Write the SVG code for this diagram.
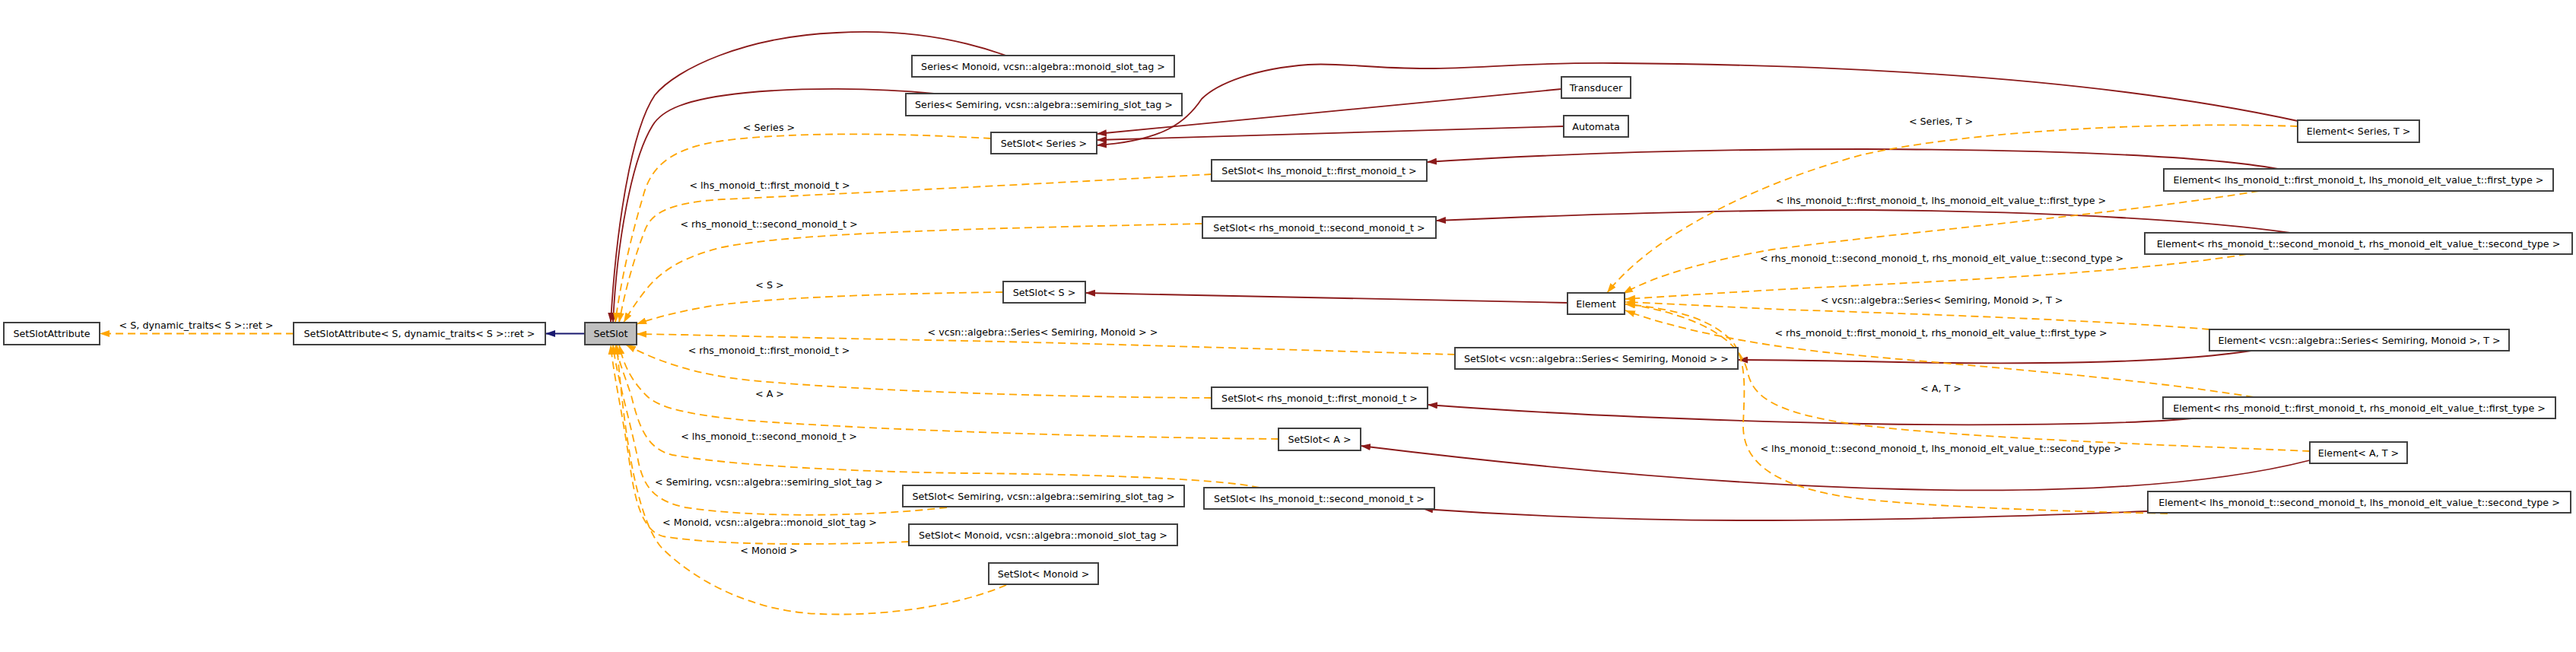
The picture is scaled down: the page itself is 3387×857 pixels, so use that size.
<svg xmlns="http://www.w3.org/2000/svg" width="3387" height="857" viewBox="0 0 3387 857">
<style>
text{font-family:"DejaVu Sans","Liberation Sans",sans-serif;font-size:12.7px;fill:#000;text-anchor:middle}
.n rect{fill:#fff;stroke:#404040;stroke-width:2}
.n.g rect{fill:#bfbfbf}
.e path{fill:none;stroke-width:1.8}
.r{stroke:#8b1a1a;marker-end:url(#ar)}
.o{stroke:#ffa500;stroke-dasharray:10,6;marker-end:url(#ao)}
.b{stroke:#191970;marker-end:url(#ab)}
</style>
<defs>
<marker id="ar" viewBox="0 0 13 9" refX="13" refY="4.5" markerWidth="13" markerHeight="9" markerUnits="userSpaceOnUse" orient="auto"><path d="M0,0L13,4.5L0,9z" fill="#8b1a1a"/></marker>
<marker id="ao" viewBox="0 0 13 9" refX="13" refY="4.5" markerWidth="13" markerHeight="9" markerUnits="userSpaceOnUse" orient="auto"><path d="M0,0L13,4.5L0,9z" fill="#ffa500"/></marker>
<marker id="ab" viewBox="0 0 13 9" refX="13" refY="4.5" markerWidth="13" markerHeight="9" markerUnits="userSpaceOnUse" orient="auto"><path d="M0,0L13,4.5L0,9z" fill="#191970"/></marker>
</defs>
<rect width="3387" height="857" fill="#fff"/>
<g id="edges" class="e">
<path class="b" d="M769,438.5L717,438.5"/>
<path class="o" d="M386,438.5L131,438.5"/>
<path class="r" d="M1323,73C1230,40 1150,40 1100,43C980,48 890,90 861,125C830,170 810,300 803,424"/>
<path class="r" d="M1228,123C1150,115 1050,115 980,122C900,130 870,145 858,165C830,210 811,320 806,424"/>
<path class="r" d="M2053,117L1442,176"/>
<path class="r" d="M2056,166L1442,184"/>
<path class="r" d="M3021,159C2750,100 2400,85 2124,83C2000,82 1950,90 1877,90C1800,90 1760,82 1720,85C1650,90 1600,110 1580,130C1560,160 1530,185 1442,191"/>
<path class="r" d="M2995,222C2900,205 2700,197 2450,196C2200,196 2000,205 1876,213"/>
<path class="r" d="M3011,306C2900,290 2700,278 2450,276C2250,276 2050,283 1888,290"/>
<path class="r" d="M2061,398C1800,393 1600,387 1427,385"/>
<path class="r" d="M2960,461C2850,478 2650,480 2450,475C2380,474 2330,473 2285,473"/>
<path class="r" d="M2882,550C2800,558 2600,560 2450,557C2250,553 2050,545 1877,532"/>
<path class="r" d="M3037,605C2900,640 2700,648 2500,643C2300,638 2050,618 1789,586"/>
<path class="r" d="M2824,672C2700,677 2500,684 2300,684C2150,684 2000,678 1871,669"/>
<path class="o" d="M1303,182C1200,176 1050,172 950,185C880,195 855,220 845,260C830,310 816,370 809,424"/>
<path class="o" d="M1593,229C1400,240 1100,255 950,262C880,266 858,280 849,300C835,335 822,380 814,424"/>
<path class="o" d="M1581,294C1300,300 1050,305 950,325C900,337 870,355 850,380C838,395 828,410 820,424"/>
<path class="o" d="M1319,384C1150,386 1000,392 930,403C890,410 860,418 837,426"/>
<path class="o" d="M1913,466C1700,460 1400,450 1217,447C1050,444 920,440 837,439"/>
<path class="o" d="M1593,523C1400,522 1150,515 987,500C920,493 870,478 823,453"/>
<path class="o" d="M1681,577C1450,575 1150,565 987,553C900,545 865,535 850,520C830,500 820,480 814,453"/>
<path class="o" d="M1656,641C1600,628 1400,623 1274,622C1100,620 950,610 884,598C850,590 840,560 830,520C820,490 812,470 809,453"/>
<path class="o" d="M1245,667C1150,678 1000,682 901,667C860,658 845,640 838,600C825,540 810,490 806,453"/>
<path class="o" d="M1195,712C1100,716 950,718 872,705C845,698 835,660 828,610C818,540 806,490 803,453"/>
<path class="o" d="M1323,769C1250,800 1150,810 1079,807C1000,805 920,770 870,720C835,680 820,560 811,453"/>
<path class="o" d="M3021,166C2850,160 2600,170 2450,203C2330,235 2180,300 2113,385"/>
<path class="o" d="M2970,251C2800,280 2500,305 2330,328C2250,342 2180,360 2134,386"/>
<path class="o" d="M2954,334C2800,360 2500,372 2350,380C2260,385 2190,390 2137,393"/>
<path class="o" d="M2905,433C2750,420 2500,412 2350,407C2260,403 2190,399 2137,397"/>
<path class="o" d="M2963,522C2800,495 2550,478 2400,463C2300,452 2200,432 2137,408"/>
<path class="o" d="M3037,593C2850,585 2550,575 2420,555C2330,540 2305,520 2298,490C2290,450 2240,415 2137,399"/>
<path class="o" d="M2850,675C2700,672 2500,665 2420,652C2320,635 2292,600 2292,560C2293,520 2298,480 2280,452C2255,420 2200,405 2137,400"/>
</g>
<g id="edge-labels">
<text x="258" y="432">&lt; S, dynamic_traits&lt; S &gt;::ret &gt;</text>
<text x="1011" y="171.6">&lt; Series &gt;</text>
<text x="1012" y="247.6">&lt; lhs_monoid_t::first_monoid_t &gt;</text>
<text x="1011" y="298.6">&lt; rhs_monoid_t::second_monoid_t &gt;</text>
<text x="1012" y="378.6">&lt; S &gt;</text>
<text x="1371" y="440.6">&lt; vcsn::algebra::Series&lt; Semiring, Monoid &gt; &gt;</text>
<text x="1011" y="464.6">&lt; rhs_monoid_t::first_monoid_t &gt;</text>
<text x="1012" y="521.6">&lt; A &gt;</text>
<text x="1011" y="577.6">&lt; lhs_monoid_t::second_monoid_t &gt;</text>
<text x="1011" y="637.6">&lt; Semiring, vcsn::algebra::semiring_slot_tag &gt;</text>
<text x="1012" y="690.6">&lt; Monoid, vcsn::algebra::monoid_slot_tag &gt;</text>
<text x="1011" y="727.6">&lt; Monoid &gt;</text>
<text x="2552" y="163.6">&lt; Series, T &gt;</text>
<text x="2552" y="267.6">&lt; lhs_monoid_t::first_monoid_t, lhs_monoid_elt_value_t::first_type &gt;</text>
<text x="2553" y="343.6">&lt; rhs_monoid_t::second_monoid_t, rhs_monoid_elt_value_t::second_type &gt;</text>
<text x="2553" y="398.6">&lt; vcsn::algebra::Series&lt; Semiring, Monoid &gt;, T &gt;</text>
<text x="2552" y="441.6">&lt; rhs_monoid_t::first_monoid_t, rhs_monoid_elt_value_t::first_type &gt;</text>
<text x="2552" y="514.6">&lt; A, T &gt;</text>
<text x="2552" y="593.6">&lt; lhs_monoid_t::second_monoid_t, lhs_monoid_elt_value_t::second_type &gt;</text>
</g>
<g id="n-SetSlotAttribute" class="n"><rect x="5" y="424" width="126" height="29"/><text x="68" y="443">SetSlotAttribute</text></g>
<g id="n-SetSlotAttribute-S" class="n"><rect x="386" y="424" width="331" height="29"/><text x="551.5" y="443">SetSlotAttribute&lt; S, dynamic_traits&lt; S &gt;::ret &gt;</text></g>
<g id="n-SetSlot" class="n g"><rect x="769" y="424" width="68" height="29"/><text x="803" y="443">SetSlot</text></g>
<g id="n-Series-Monoid" class="n"><rect x="1199" y="73" width="345" height="28"/><text x="1371.5" y="91.6">Series&lt; Monoid, vcsn::algebra::monoid_slot_tag &gt;</text></g>
<g id="n-Series-Semiring" class="n"><rect x="1191" y="123" width="363" height="29"/><text x="1372.5" y="142">Series&lt; Semiring, vcsn::algebra::semiring_slot_tag &gt;</text></g>
<g id="n-SetSlot-Series" class="n"><rect x="1303" y="174" width="139" height="28"/><text x="1372.5" y="192.6">SetSlot&lt; Series &gt;</text></g>
<g id="n-Transducer" class="n"><rect x="2053" y="101" width="91" height="28"/><text x="2098.5" y="119.6">Transducer</text></g>
<g id="n-Automata" class="n"><rect x="2056" y="152" width="85" height="28"/><text x="2098.5" y="170.6">Automata</text></g>
<g id="n-SetSlot-lhs-first" class="n"><rect x="1593" y="210" width="283" height="28"/><text x="1734.5" y="228.6">SetSlot&lt; lhs_monoid_t::first_monoid_t &gt;</text></g>
<g id="n-SetSlot-rhs-second" class="n"><rect x="1581" y="285" width="307" height="28"/><text x="1734.5" y="303.6">SetSlot&lt; rhs_monoid_t::second_monoid_t &gt;</text></g>
<g id="n-SetSlot-S" class="n"><rect x="1319" y="370" width="108" height="28"/><text x="1373" y="388.6">SetSlot&lt; S &gt;</text></g>
<g id="n-Element" class="n"><rect x="2061" y="385" width="75" height="28"/><text x="2098.5" y="403.6">Element</text></g>
<g id="n-SetSlot-vcsn" class="n"><rect x="1913" y="457" width="372" height="28"/><text x="2099" y="475.6">SetSlot&lt; vcsn::algebra::Series&lt; Semiring, Monoid &gt; &gt;</text></g>
<g id="n-SetSlot-rhs-first" class="n"><rect x="1593" y="509" width="284" height="28"/><text x="1735" y="527.6">SetSlot&lt; rhs_monoid_t::first_monoid_t &gt;</text></g>
<g id="n-SetSlot-A" class="n"><rect x="1681" y="563" width="108" height="29"/><text x="1735" y="582">SetSlot&lt; A &gt;</text></g>
<g id="n-SetSlot-Semiring" class="n"><rect x="1187" y="638" width="370" height="28"/><text x="1372" y="656.6">SetSlot&lt; Semiring, vcsn::algebra::semiring_slot_tag &gt;</text></g>
<g id="n-SetSlot-lhs-second" class="n"><rect x="1583" y="641" width="303" height="28"/><text x="1734.5" y="659.6">SetSlot&lt; lhs_monoid_t::second_monoid_t &gt;</text></g>
<g id="n-SetSlot-Monoid-tag" class="n"><rect x="1195" y="689" width="353" height="28"/><text x="1371.5" y="707.6">SetSlot&lt; Monoid, vcsn::algebra::monoid_slot_tag &gt;</text></g>
<g id="n-SetSlot-Monoid" class="n"><rect x="1300" y="740" width="144" height="28"/><text x="1372" y="758.6">SetSlot&lt; Monoid &gt;</text></g>
<g id="n-Element-Series-T" class="n"><rect x="3021" y="158" width="160" height="29"/><text x="3101" y="177">Element&lt; Series, T &gt;</text></g>
<g id="n-Element-lhs-first" class="n"><rect x="2845" y="222" width="512" height="29"/><text x="3101" y="241">Element&lt; lhs_monoid_t::first_monoid_t, lhs_monoid_elt_value_t::first_type &gt;</text></g>
<g id="n-Element-rhs-second" class="n"><rect x="2820" y="306" width="562" height="28"/><text x="3101" y="324.6">Element&lt; rhs_monoid_t::second_monoid_t, rhs_monoid_elt_value_t::second_type &gt;</text></g>
<g id="n-Element-vcsn-T" class="n"><rect x="2905" y="433" width="394" height="28"/><text x="3102" y="451.6">Element&lt; vcsn::algebra::Series&lt; Semiring, Monoid &gt;, T &gt;</text></g>
<g id="n-Element-rhs-first" class="n"><rect x="2844" y="522" width="516" height="28"/><text x="3102" y="540.6">Element&lt; rhs_monoid_t::first_monoid_t, rhs_monoid_elt_value_t::first_type &gt;</text></g>
<g id="n-Element-A-T" class="n"><rect x="3037" y="581" width="128" height="28"/><text x="3101" y="599.6">Element&lt; A, T &gt;</text></g>
<g id="n-Element-lhs-second" class="n"><rect x="2824" y="646" width="556" height="28"/><text x="3102" y="664.6">Element&lt; lhs_monoid_t::second_monoid_t, lhs_monoid_elt_value_t::second_type &gt;</text></g>
</svg>
